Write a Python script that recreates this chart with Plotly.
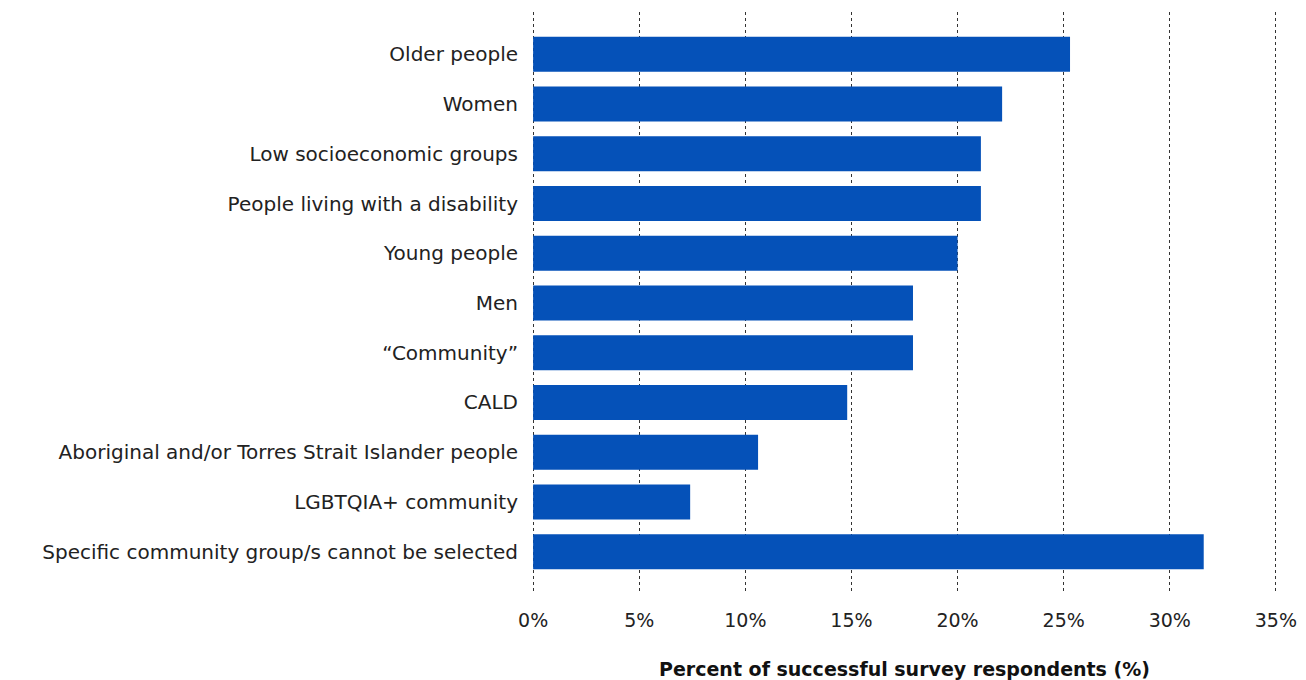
import plotly.graph_objects as go

groups = [
    "Older people",
    "Women",
    "Low socioeconomic groups",
    "People living with a disability",
    "Young people",
    "Men",
    "\u201cCommunity\u201d",
    "CALD",
    "Aboriginal and/or Torres Strait Islander people",
    "LGBTQIA+ community",
    "Specific community group/s cannot be selected",
]
percent = [25.3, 22.1, 21.1, 21.1, 20.0, 17.9, 17.9, 14.8, 10.6, 7.4, 31.6]

tick_vals = [0, 5, 10, 15, 20, 25, 30, 35]
tick_text = ["0%", "5%", "10%", "15%", "20%", "25%", "30%", "35%"]

FONT = "DejaVu Sans"

fig = go.Figure(
    go.Bar(
        x=percent,
        y=groups,
        orientation="h",
        marker=dict(color="#0551B8", line=dict(width=0)),
        hoverinfo="x+y",
    )
)

fig.update_layout(
    width=1306,
    height=680,
    margin=dict(l=531, r=28, t=12, b=86),
    paper_bgcolor="white",
    plot_bgcolor="white",
    bargap=0.3,
    showlegend=False,
    font=dict(family=FONT, size=19, color="#222222"),
    xaxis=dict(
        range=[-0.1, 35.1],
        tickvals=tick_vals,
        ticktext=tick_text,
        showgrid=True,
        gridcolor="#333333",
        griddash="dot",
        gridwidth=1,
        zeroline=False,
        showline=False,
        automargin=False,
        ticklabelstandoff=13,
        tickfont=dict(family=FONT, size=19, color="#222222"),
        title=dict(
            text="<b>Percent of successful survey respondents (%)</b>",
            font=dict(family=FONT, size=19, color="#111111"),
            standoff=34,
        ),
    ),
    yaxis=dict(
        type="category",
        range=[10.85, -0.85],
        showgrid=False,
        zeroline=False,
        showline=False,
        automargin=False,
        ticklabelstandoff=12,
        tickfont=dict(family=FONT, size=20, color="#222222"),
    ),
)

fig.write_html("out.html")
